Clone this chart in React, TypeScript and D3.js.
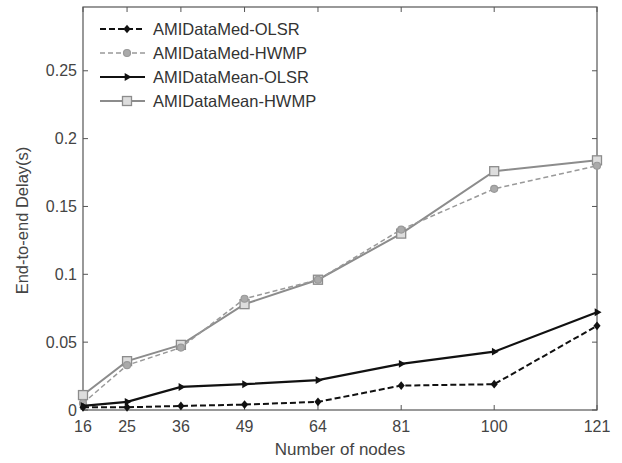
import React, { useEffect, useRef } from "react";
import * as d3 from "d3";

const nodes = [16, 25, 36, 49, 64, 81, 100, 121];
const yTicks = [0, 0.05, 0.1, 0.15, 0.2, 0.25];

const medOlsr = [0.002, 0.002, 0.003, 0.004, 0.006, 0.018, 0.019, 0.062];
const medHwmp = [0.005, 0.033, 0.046, 0.082, 0.096, 0.133, 0.163, 0.18];
const meanOlsr = [0.003, 0.006, 0.017, 0.019, 0.022, 0.034, 0.043, 0.072];
const meanHwmp = [0.011, 0.036, 0.048, 0.078, 0.096, 0.13, 0.176, 0.184];

const seriesNames = [
  "AMIDataMed-OLSR",
  "AMIDataMed-HWMP",
  "AMIDataMean-OLSR",
  "AMIDataMean-HWMP",
];

const App = () => {
  const svgRef = useRef<SVGSVGElement>(null);

  useEffect(() => {
    const width = 622;
    const height = 463;
    const margin = { top: 7, right: 25, bottom: 53, left: 83 };
    const innerW = width - margin.left - margin.right;
    const innerH = height - margin.top - margin.bottom;

    const svg = d3.select(svgRef.current);
    svg.selectAll("*").remove();
    svg.attr("width", width).attr("height", height);

    const g = svg.append("g").attr("transform", `translate(${margin.left},${margin.top})`);

    const x = d3.scaleLinear().domain([16, 121]).range([0, innerW]);
    const y = d3.scaleLinear().domain([0, 0.297]).range([innerH, 0]);

    const axisColor = "#555";
    const font = "Liberation Sans, Arial, sans-serif";

    // box
    g.append("rect")
      .attr("width", innerW)
      .attr("height", innerH)
      .attr("fill", "none")
      .attr("stroke", axisColor)
      .attr("stroke-width", 1.2);

    // inward ticks on all sides
    nodes.forEach((n) => {
      g.append("line").attr("x1", x(n)).attr("x2", x(n)).attr("y1", innerH).attr("y2", innerH - 5)
        .attr("stroke", axisColor);
      g.append("line").attr("x1", x(n)).attr("x2", x(n)).attr("y1", 0).attr("y2", 5)
        .attr("stroke", axisColor);
      g.append("text")
        .attr("x", x(n))
        .attr("y", innerH + 22)
        .attr("text-anchor", "middle")
        .attr("font-family", font)
        .attr("font-size", 16)
        .attr("fill", "#444")
        .text(n);
    });

    yTicks.forEach((t) => {
      g.append("line").attr("x1", 0).attr("x2", 5).attr("y1", y(t)).attr("y2", y(t))
        .attr("stroke", axisColor);
      g.append("line").attr("x1", innerW).attr("x2", innerW - 5).attr("y1", y(t)).attr("y2", y(t))
        .attr("stroke", axisColor);
      g.append("text")
        .attr("x", -6)
        .attr("y", y(t))
        .attr("dy", "0.35em")
        .attr("text-anchor", "end")
        .attr("font-family", font)
        .attr("font-size", 16)
        .attr("fill", "#444")
        .text(d3.format("~g")(t));
    });

    // axis labels
    g.append("text")
      .attr("x", innerW / 2)
      .attr("y", innerH + 45)
      .attr("text-anchor", "middle")
      .attr("font-family", font)
      .attr("font-size", 17)
      .attr("fill", "#444")
      .text("Number of nodes");

    g.append("text")
      .attr("transform", "rotate(-90)")
      .attr("x", -innerH / 2 - 12)
      .attr("y", -55)
      .attr("text-anchor", "middle")
      .attr("font-family", font)
      .attr("font-size", 16.5)
      .attr("fill", "#444")
      .text("End-to-end Delay(s)");

    const styles = [
      { data: medOlsr, color: "#111", width: 2, dash: "6,3", marker: "diamond" },
      { data: medHwmp, color: "#999", width: 1.5, dash: "5,3", marker: "circle" },
      { data: meanOlsr, color: "#111", width: 2.2, dash: null, marker: "triangle" },
      { data: meanHwmp, color: "#8c8c8c", width: 2, dash: null, marker: "square" },
    ];

    const drawMarker = (sel: any, type: string, color: string, cx: number, cy: number) => {
      if (type === "diamond") {
        sel.append("path")
          .attr("d", d3.symbol(d3.symbolDiamond2, 40)())
          .attr("transform", `translate(${cx},${cy}) scale(0.9,1.1)`)
          .attr("fill", color);
      } else if (type === "circle") {
        sel.append("circle").attr("cx", cx).attr("cy", cy).attr("r", 3.5)
          .attr("fill", "#aaa").attr("stroke", color).attr("stroke-width", 1.2);
      } else if (type === "triangle") {
        sel.append("path")
          .attr("d", d3.symbol(d3.symbolTriangle2, 45)())
          .attr("transform", `translate(${cx},${cy}) rotate(90)`)
          .attr("fill", color);
      } else {
        sel.append("rect").attr("x", cx - 4.5).attr("y", cy - 4.5).attr("width", 9).attr("height", 9)
          .attr("fill", "#ddd").attr("stroke", color).attr("stroke-width", 1.3);
      }
    };

    const line = d3.line<number>()
      .x((_, i) => x(nodes[i]))
      .y((d) => y(d));

    // draw in order HWMP first so black lines on top
    [3, 1, 2, 0].forEach((k) => {
      const s = styles[k];
      g.append("path")
        .datum(s.data)
        .attr("fill", "none")
        .attr("stroke", s.color)
        .attr("stroke-width", s.width)
        .attr("stroke-dasharray", s.dash)
        .attr("d", line);
      s.data.forEach((d, i) => drawMarker(g, s.marker, s.color, x(nodes[i]), y(d)));
    });

    // legend
    const legendY = [22, 46, 70, 94];
    styles.forEach((s, k) => {
      const ly = legendY[k];
      g.append("line")
        .attr("x1", 17).attr("x2", 62).attr("y1", ly).attr("y2", ly)
        .attr("stroke", s.color)
        .attr("stroke-width", s.width)
        .attr("stroke-dasharray", s.dash);
      drawMarker(g, s.marker, s.color, 44, ly);
      g.append("text")
        .attr("x", 70)
        .attr("y", ly)
        .attr("dy", "0.36em")
        .attr("font-family", font)
        .attr("font-size", 16.5)
        .attr("fill", "#333")
        .text(seriesNames[k]);
    });
  }, []);

  return <svg ref={svgRef} style={{ position: "absolute", left: 0, top: 0, background: "#fff" }} />;
};

export default App;
